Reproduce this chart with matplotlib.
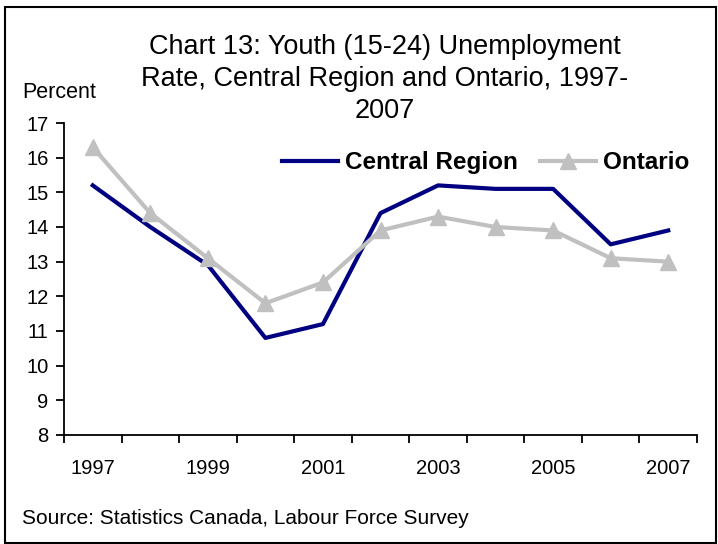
import matplotlib.pyplot as plt
from matplotlib.patches import Rectangle

plt.rcParams['font.family'] = ['Liberation Sans', 'DejaVu Sans']

# youth unemployment rate, percent
years = ['1997', '1998', '1999', '2000', '2001', '2002', '2003', '2004', '2005', '2006', '2007']
central = [15.2, 14.0, 12.9, 10.8, 11.2, 14.4, 15.2, 15.1, 15.1, 13.5, 13.9]
ontario = [16.3, 14.4, 13.1, 11.8, 12.4, 13.9, 14.3, 14.0, 13.9, 13.1, 13.0]

fig = plt.figure(figsize=(7.18, 5.44), dpi=100)
fig.patches.append(Rectangle((5 / 718, 1 / 544), 711 / 718, 536 / 544, transform=fig.transFigure,
                             fill=False, edgecolor='black', linewidth=1.5))

ax = fig.add_axes([64 / 718, 1 - 435 / 544, 633 / 718, 312 / 544])
x = list(range(len(years)))
ax.plot(x, central, color='#000080', linewidth=3.0, label='Central Region')
ax.plot(x, ontario, color='#C0C0C0', linewidth=3.0, marker='^', markersize=12, label='Ontario')

ax.set_xlim(-0.5, len(years) - 0.5)
ax.set_ylim(8, 17)
ax.set_yticks(range(8, 18))
ax.set_xticks([i - 0.5 for i in range(len(years) + 1)])
ax.set_xticklabels([])
ax.set_xticks(x[::2], minor=True)
ax.set_xticklabels(years[::2], minor=True)
ax.tick_params(axis='both', which='major', length=6, width=1.3, labelsize=14.5, direction='out')
ax.tick_params(axis='y', pad=5)
ax.tick_params(axis='x', which='minor', length=0, pad=17, labelsize=14.5)
for s in ['top', 'right']:
    ax.spines[s].set_visible(False)
for s in ['left', 'bottom']:
    ax.spines[s].set_linewidth(1.3)

ax.legend(loc='center', bbox_to_anchor=((486 - 64) / 633, 0.872), ncol=2, frameon=False,
          prop={'weight': 'bold', 'size': 17.5}, handlelength=2.3,
          handletextpad=0.3, columnspacing=0.9, borderpad=0)

fig.text(385 / 718, 1 - 79 / 544,
         'Chart 13: Youth (15-24) Unemployment\nRate, Central Region and Ontario, 1997-\n2007',
         ha='center', va='center', fontsize=19.5, linespacing=1.3)
fig.text(22 / 718, 1 - 92 / 544, 'Percent', ha='left', va='center', fontsize=15.5)
fig.text(22 / 718, 1 - 518 / 544, 'Source: Statistics Canada, Labour Force Survey',
         ha='left', va='center', fontsize=15)

fig.savefig('out.png', dpi=100)
